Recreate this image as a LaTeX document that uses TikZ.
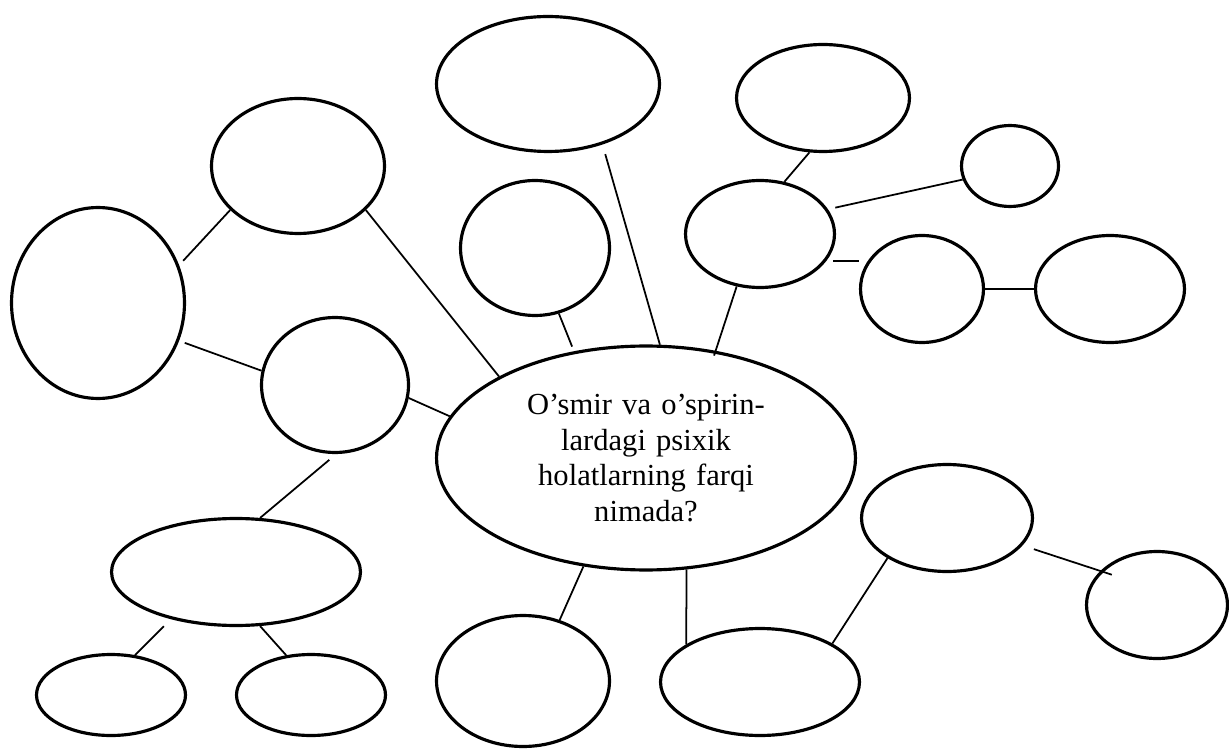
\documentclass[tikz,border=0pt]{standalone}
\usepackage{fontspec}
\setmainfont{Liberation Serif}
\usetikzlibrary{shapes.geometric}

\begin{document}
\begin{tikzpicture}
[
x=0.02cm, y=-0.02cm,
bubble/.style = {draw, ellipse, line width=1.8pt, inner sep=0pt},
link/.style   = {line width=1pt},
]
\useasboundingbox (0,0) rectangle (1229,749);

\node at (646,458)[bubble, minimum width=8.38cm, minimum height=4.48cm, text width=5.2cm, align=center,
  font=\fontsize{17.4}{20.3}\selectfont] (question)
  {O’smir va o’spirin-\\lardagi psixik\\holatlarning farqi\\nimada?};

% left side
\node at (298,166)[bubble, minimum width=3.46cm, minimum height=2.70cm] (ltop) {};
\node at (98,303)[bubble, minimum width=3.46cm, minimum height=3.82cm] (lbig) {};
\node at (335,385)[bubble, minimum width=2.94cm, minimum height=2.70cm] (lmid) {};
\node at (236,572)[bubble, minimum width=4.98cm, minimum height=2.14cm] (lwide) {};
\node at (111,695)[bubble, minimum width=2.98cm, minimum height=1.62cm] (lbotl) {};
\node at (311,695)[bubble, minimum width=2.98cm, minimum height=1.62cm] (lbotr) {};

% top
\node at (548,84)[bubble, minimum width=4.46cm, minimum height=2.70cm] (mtop) {};
\node at (535,248)[bubble, minimum width=2.98cm, minimum height=2.70cm] (msmall) {};
\node at (823,98)[bubble, minimum width=3.46cm, minimum height=2.14cm] (rtop) {};
\node at (1010,166)[bubble, minimum width=1.94cm, minimum height=1.62cm] (rsmall) {};
\node at (760,234)[bubble, minimum width=2.98cm, minimum height=2.14cm] (rmid) {};
\node at (922,289)[bubble, minimum width=2.46cm, minimum height=2.14cm] (rmidb) {};
\node at (1110,289)[bubble, minimum width=2.98cm, minimum height=2.14cm] (rfar) {};

% bottom right
\node at (947,518)[bubble, minimum width=3.42cm, minimum height=2.14cm] (rlow) {};
\node at (1157,605)[bubble, minimum width=2.82cm, minimum height=2.14cm] (rcorner) {};
\node at (523,681)[bubble, minimum width=3.46cm, minimum height=2.62cm] (bmid) {};
\node at (760,682)[bubble, minimum width=3.98cm, minimum height=2.14cm] (bright) {};

\draw[link, shorten >=0.12cm] (ltop.213) -- (lbig.25);
\draw[link, shorten <=0.12cm] (lbig.-25) -- (lmid.169);
\draw[link] (lmid.-10) -- (question.168);
\draw[link] (ltop.-33) -- (question.151);
\draw[link, shorten <=0.18cm] (lmid.-89) -- (lwide.66);
\draw[link, shorten <=0.2cm] (lwide.216) -- (lbotl.59);
\draw[link] (lwide.-66) -- (lbotr.122);

\draw[link, shorten >=0.1cm] (msmall.-70) -- (question.124);
\draw[link, shorten <=0.2cm] (mtop.-48) -- (question.83);
\draw[link, shorten >=-0.1cm] (rmid.-114) -- (question.57);
\draw[link] (rtop.-104) -- (rmid.65);
\draw[link, shorten <=0.15cm] (rmid.20) -- (rsmall.196);
\draw[link, shorten <=0.14cm] (rmid.-22) -- (rmid.-22 -| rmidb.west);
\draw[link] (rmidb.east) -- (rfar.west);

\draw[link] (question.240) -- (bmid.59);
\draw[link] (question.-70) -- (bright.153);
\draw[link] (rlow.214) -- (bright.28);
\draw[link, shorten <=0.24cm, shorten >=-0.24cm] (rlow.-20) -- (rcorner.149);
\end{tikzpicture}
\end{document}
